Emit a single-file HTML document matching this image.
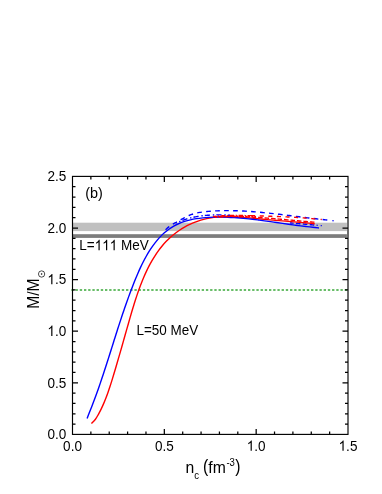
<!DOCTYPE html>
<html><head><meta charset="utf-8"><style>
html,body{margin:0;padding:0;background:#fff;}
body{width:382px;height:494px;overflow:hidden;}
svg{display:block;will-change:transform;}
text{font-family:"Liberation Sans",sans-serif;fill:#000;}
</style></head><body>
<svg width="382" height="494" viewBox="0 0 382 494">
<rect width="382" height="494" fill="#fff"/>
<rect x="72.5" y="222.7" width="274.4" height="8.4" fill="#c0c0c0"/>
<rect x="72.5" y="234.2" width="274.4" height="3.7" fill="#7c7c7c"/>
<path d="M71.35 290H348.0" stroke="#38a838" stroke-width="1.6" stroke-dasharray="2.35 1.855" fill="none"/>
<g fill="none" stroke-width="1.4" stroke-linecap="butt" stroke-linejoin="round">
<path d="M230.00 215.30C229.84 215.29 229.38 215.26 229.07 215.24C228.76 215.22 228.45 215.20 228.14 215.19C227.83 215.17 227.52 215.15 227.21 215.14C226.90 215.12 226.59 215.10 226.28 215.09C225.97 215.07 225.66 215.06 225.35 215.04C225.03 215.03 224.72 215.02 224.41 215.01C224.10 214.99 223.79 214.98 223.48 214.97C223.17 214.96 222.86 214.95 222.54 214.94C222.23 214.93 221.92 214.93 221.61 214.92C221.30 214.91 220.99 214.91 220.67 214.90C220.36 214.90 220.05 214.89 219.74 214.89C219.43 214.88 219.11 214.88 218.80 214.88C218.49 214.88 218.18 214.88 217.87 214.88C217.55 214.88 217.24 214.88 216.93 214.88C216.62 214.88 216.31 214.88 215.99 214.89C215.68 214.89 215.37 214.90 215.06 214.90C214.74 214.91 214.43 214.92 214.12 214.92C213.81 214.93 213.50 214.94 213.18 214.95C212.87 214.96 212.56 214.97 212.25 214.99C211.94 215.00 211.63 215.01 211.31 215.03C211.00 215.04 210.69 215.06 210.38 215.07C210.07 215.09 209.76 215.11 209.45 215.13C209.13 215.14 208.82 215.16 208.51 215.19C208.20 215.21 207.89 215.23 207.58 215.25C207.27 215.28 206.96 215.30 206.65 215.33C206.34 215.35 206.03 215.38 205.72 215.41C205.41 215.44 205.10 215.47 204.79 215.50C204.48 215.53 204.17 215.56 203.86 215.59C203.55 215.63 203.24 215.66 202.93 215.70C202.62 215.74 202.31 215.77 202.00 215.81C201.69 215.85 201.39 215.89 201.08 215.93C200.77 215.97 200.46 216.02 200.15 216.06C199.85 216.10 199.54 216.15 199.23 216.20C198.92 216.24 198.62 216.29 198.31 216.34C198.00 216.39 197.70 216.44 197.39 216.49C197.08 216.55 196.78 216.60 196.47 216.66C196.17 216.71 195.86 216.77 195.56 216.83C195.25 216.89 194.95 216.95 194.64 217.01C194.34 217.07 194.03 217.13 193.73 217.20C193.43 217.26 193.12 217.33 192.82 217.39C192.52 217.46 192.21 217.53 191.91 217.60C191.61 217.67 191.31 217.74 191.00 217.82C190.70 217.89 190.40 217.97 190.10 218.04C189.80 218.12 189.50 218.20 189.20 218.28C188.90 218.36 188.60 218.44 188.30 218.53C188.00 218.61 187.70 218.70 187.40 218.78C187.11 218.87 186.81 218.96 186.51 219.05C186.21 219.14 185.92 219.23 185.62 219.32C185.32 219.42 185.03 219.51 184.73 219.61C184.43 219.71 184.14 219.81 183.84 219.91C183.55 220.01 183.26 220.11 182.96 220.22C182.67 220.32 182.37 220.43 182.08 220.54C181.79 220.64 181.50 220.75 181.20 220.86C180.91 220.98 180.62 221.09 180.33 221.21C180.04 221.32 179.75 221.44 179.46 221.56C179.17 221.68 178.88 221.80 178.59 221.92C178.31 222.04 178.02 222.17 177.73 222.29C177.44 222.42 177.16 222.56 176.87 222.68C176.58 222.80 176.14 222.95 176.00 223.00" stroke="#0000ff" stroke-dasharray="5.2 2.1 1.4 2.8" stroke-dashoffset="3"/>
<path d="M314.20 225.00C314.13 224.99 313.93 224.98 313.79 224.96C313.65 224.95 313.52 224.94 313.38 224.93C313.24 224.92 313.11 224.91 312.97 224.89C312.83 224.88 312.70 224.87 312.56 224.86C312.42 224.85 312.29 224.84 312.15 224.82C312.01 224.81 311.88 224.80 311.74 224.79C311.60 224.78 311.47 224.76 311.33 224.75C311.19 224.74 311.06 224.73 310.92 224.72C310.78 224.71 310.65 224.69 310.51 224.68C310.37 224.67 310.23 224.66 310.10 224.65C309.96 224.63 309.82 224.62 309.69 224.61C309.55 224.60 309.41 224.59 309.28 224.57C309.14 224.56 309.00 224.55 308.87 224.54C308.73 224.53 308.59 224.51 308.46 224.50C308.32 224.49 308.18 224.48 308.05 224.47C307.91 224.45 307.77 224.44 307.64 224.43C307.50 224.42 307.36 224.41 307.23 224.40C307.09 224.38 306.95 224.37 306.82 224.36C306.68 224.35 306.54 224.34 306.41 224.32C306.27 224.31 306.13 224.30 306.00 224.29C305.86 224.28 305.72 224.26 305.59 224.25C305.45 224.24 305.31 224.23 305.18 224.22C305.04 224.20 304.90 224.19 304.77 224.18C304.63 224.17 304.49 224.16 304.36 224.14C304.22 224.13 304.08 224.12 303.95 224.11C303.81 224.10 303.67 224.08 303.54 224.07C303.40 224.06 303.26 224.05 303.13 224.04C302.99 224.02 302.85 224.01 302.72 224.00C302.58 223.99 302.44 223.98 302.31 223.96C302.17 223.95 302.03 223.94 301.90 223.93C301.76 223.92 301.62 223.90 301.49 223.89C301.35 223.88 301.21 223.87 301.08 223.86C300.94 223.84 300.80 223.83 300.66 223.82C300.53 223.81 300.39 223.80 300.25 223.78C300.12 223.77 299.98 223.76 299.84 223.75C299.71 223.74 299.57 223.72 299.43 223.71C299.30 223.70 299.16 223.69 299.02 223.68C298.89 223.66 298.75 223.65 298.61 223.64C298.48 223.63 298.34 223.62 298.20 223.60C298.07 223.59 297.93 223.58 297.79 223.57C297.66 223.56 297.52 223.55 297.38 223.53C297.25 223.52 297.11 223.51 296.97 223.50C296.84 223.49 296.70 223.47 296.56 223.46C296.43 223.45 296.29 223.44 296.15 223.43C296.02 223.41 295.88 223.40 295.74 223.39C295.61 223.38 295.47 223.37 295.33 223.36C295.20 223.34 295.06 223.33 294.92 223.32C294.79 223.31 294.65 223.30 294.51 223.28C294.38 223.27 294.24 223.26 294.10 223.25C293.97 223.24 293.83 223.23 293.69 223.21C293.56 223.20 293.42 223.19 293.28 223.18C293.15 223.17 293.01 223.16 292.87 223.14C292.73 223.13 292.60 223.12 292.46 223.11C292.32 223.10 292.19 223.09 292.05 223.07C291.91 223.06 291.78 223.05 291.64 223.04C291.50 223.03 291.37 223.02 291.23 223.00C291.09 222.99 290.96 222.98 290.82 222.97C290.68 222.96 290.55 222.95 290.41 222.93C290.27 222.92 290.07 222.91 290.00 222.90" stroke="#0000ff" stroke-dasharray="4.5 2.4"/>
<path d="M316.6 225.3l1.1 0.06M320.7 225.6l1.1 0.05" stroke="#0000ff"/>
<path d="M91.40 423.50C92.07 422.79 94.27 420.75 95.44 419.22C96.60 417.69 97.46 416.00 98.41 414.31C99.36 412.62 100.26 410.87 101.13 409.09C102.00 407.31 102.83 405.48 103.63 403.63C104.43 401.77 105.19 399.88 105.93 397.97C106.67 396.06 107.38 394.12 108.06 392.18C108.75 390.23 109.41 388.26 110.05 386.30C110.70 384.34 111.32 382.37 111.93 380.41C112.54 378.45 113.13 376.49 113.71 374.55C114.30 372.61 114.87 370.68 115.44 368.77C116.01 366.86 116.56 364.96 117.11 363.07C117.67 361.18 118.21 359.30 118.75 357.42C119.29 355.55 119.83 353.68 120.36 351.82C120.90 349.95 121.43 348.09 121.96 346.23C122.48 344.37 123.01 342.51 123.54 340.64C124.07 338.77 124.60 336.91 125.13 335.03C125.66 333.16 126.19 331.28 126.73 329.39C127.26 327.50 127.80 325.60 128.35 323.69C128.89 321.77 129.44 319.85 130.00 317.91C130.56 315.97 131.12 314.02 131.70 312.06C132.28 310.11 132.87 308.14 133.47 306.18C134.07 304.21 134.68 302.24 135.32 300.27C135.95 298.31 136.60 296.34 137.27 294.38C137.93 292.42 138.62 290.46 139.33 288.52C140.04 286.57 140.77 284.63 141.53 282.72C142.29 280.80 143.07 278.89 143.88 277.00C144.69 275.11 145.53 273.24 146.40 271.40C147.27 269.55 148.17 267.73 149.10 265.93C150.04 264.14 151.01 262.37 152.01 260.63C153.02 258.89 154.06 257.18 155.14 255.52C156.23 253.85 157.34 252.21 158.51 250.62C159.68 249.02 160.88 247.47 162.13 245.96C163.39 244.45 164.68 242.98 166.03 241.56C167.38 240.15 168.77 238.78 170.22 237.46C171.67 236.15 173.17 234.88 174.71 233.68C176.25 232.47 177.85 231.32 179.48 230.23C181.12 229.13 182.80 228.10 184.51 227.13C186.23 226.16 187.99 225.25 189.77 224.40C191.55 223.56 193.38 222.77 195.22 222.06C197.06 221.35 198.94 220.70 200.83 220.13C202.73 219.55 204.65 219.04 206.58 218.61C208.52 218.18 210.47 217.82 212.43 217.53C214.40 217.25 216.38 217.05 218.36 216.91C220.35 216.77 222.35 216.70 224.35 216.68C226.35 216.65 228.37 216.69 230.38 216.74C232.40 216.80 234.43 216.90 236.46 217.01C238.48 217.11 240.52 217.25 242.56 217.40C244.59 217.54 246.63 217.71 248.67 217.88C250.71 218.05 252.76 218.24 254.80 218.43C256.84 218.61 258.89 218.81 260.92 219.00C262.96 219.20 265.00 219.40 267.04 219.58C269.07 219.77 271.10 219.96 273.13 220.13C275.15 220.31 277.18 220.48 279.19 220.65C281.20 220.82 283.21 220.98 285.21 221.14C287.20 221.30 289.19 221.46 291.17 221.62C293.15 221.78 295.12 221.94 297.08 222.10C299.03 222.27 300.98 222.43 302.91 222.61C304.84 222.78 306.69 222.95 308.66 223.15C310.62 223.35 313.69 223.69 314.70 223.80" stroke="#ff0000"/>
<path d="M87.10 418.40C87.47 417.46 88.54 414.66 89.29 412.75C90.05 410.83 90.86 408.84 91.62 406.89C92.38 404.94 93.13 402.99 93.86 401.05C94.59 399.11 95.31 397.16 96.02 395.22C96.73 393.29 97.42 391.35 98.11 389.41C98.79 387.48 99.46 385.55 100.13 383.61C100.79 381.68 101.45 379.75 102.09 377.82C102.74 375.90 103.38 373.97 104.01 372.04C104.65 370.12 105.27 368.19 105.89 366.27C106.51 364.35 107.13 362.42 107.74 360.50C108.36 358.58 108.97 356.66 109.57 354.73C110.18 352.81 110.79 350.89 111.39 348.97C112.00 347.05 112.60 345.13 113.21 343.20C113.81 341.28 114.42 339.36 115.02 337.44C115.63 335.51 116.24 333.59 116.86 331.67C117.47 329.74 118.09 327.82 118.71 325.89C119.33 323.97 119.96 322.04 120.60 320.11C121.23 318.18 121.87 316.25 122.52 314.32C123.17 312.39 123.82 310.45 124.49 308.52C125.16 306.58 125.83 304.64 126.52 302.70C127.21 300.76 127.90 298.82 128.61 296.87C129.32 294.93 130.04 292.98 130.78 291.03C131.52 289.08 132.26 287.13 133.03 285.17C133.79 283.22 134.57 281.25 135.37 279.30C136.17 277.34 136.99 275.39 137.83 273.45C138.67 271.51 139.53 269.58 140.42 267.67C141.31 265.76 142.22 263.86 143.17 262.00C144.12 260.14 145.10 258.29 146.11 256.49C147.12 254.68 148.17 252.90 149.25 251.17C150.34 249.44 151.46 247.74 152.63 246.10C153.80 244.46 155.00 242.86 156.26 241.32C157.51 239.78 158.81 238.29 160.16 236.87C161.52 235.45 162.91 234.09 164.37 232.81C165.83 231.53 167.33 230.32 168.90 229.20C170.47 228.07 172.09 227.02 173.78 226.07C175.46 225.12 177.22 224.26 179.02 223.49C180.82 222.71 182.69 222.03 184.59 221.42C186.49 220.81 188.45 220.29 190.43 219.83C192.41 219.36 194.44 218.98 196.48 218.65C198.53 218.31 200.61 218.05 202.69 217.83C204.77 217.62 206.88 217.46 208.99 217.34C211.10 217.22 213.22 217.15 215.33 217.11C217.43 217.07 219.55 217.07 221.64 217.10C223.73 217.12 225.82 217.18 227.89 217.26C229.97 217.34 232.03 217.45 234.09 217.57C236.14 217.70 238.19 217.86 240.23 218.03C242.27 218.20 244.30 218.39 246.33 218.60C248.36 218.80 250.38 219.03 252.40 219.26C254.42 219.50 256.43 219.75 258.44 220.01C260.45 220.27 262.46 220.54 264.46 220.82C266.47 221.09 268.47 221.38 270.47 221.67C272.47 221.95 274.48 222.25 276.48 222.54C278.48 222.83 280.48 223.12 282.49 223.41C284.49 223.70 286.50 223.99 288.51 224.28C290.52 224.56 292.53 224.84 294.55 225.10C296.57 225.37 298.59 225.63 300.62 225.88C302.64 226.12 304.68 226.36 306.72 226.58C308.76 226.80 310.82 226.97 312.86 227.19C314.91 227.42 317.98 227.82 319.00 227.95" stroke="#0000ff"/>
<path d="M314.40 222.30C314.12 222.27 313.28 222.17 312.72 222.11C312.16 222.06 311.60 222.02 311.04 221.97C310.48 221.92 309.92 221.87 309.36 221.83C308.80 221.78 308.24 221.73 307.68 221.68C307.12 221.63 306.56 221.58 306.00 221.53C305.44 221.48 304.88 221.43 304.32 221.38C303.76 221.33 303.20 221.28 302.64 221.23C302.08 221.18 301.52 221.13 300.95 221.08C300.39 221.03 299.83 220.98 299.27 220.93C298.71 220.87 298.15 220.82 297.59 220.77C297.03 220.72 296.47 220.67 295.91 220.62C295.35 220.57 294.79 220.51 294.23 220.46C293.67 220.41 293.11 220.36 292.55 220.31C291.98 220.26 291.42 220.20 290.86 220.15C290.30 220.10 289.74 220.05 289.18 220.00C288.62 219.95 288.06 219.90 287.50 219.84C286.94 219.79 286.38 219.74 285.81 219.69C285.25 219.64 284.69 219.59 284.13 219.54C283.57 219.49 283.01 219.44 282.45 219.39C281.89 219.34 281.33 219.29 280.76 219.24C280.20 219.19 279.64 219.14 279.08 219.09C278.52 219.05 277.96 219.00 277.40 218.95C276.84 218.90 276.27 218.85 275.71 218.81C275.15 218.76 274.59 218.71 274.03 218.67C273.47 218.62 272.91 218.57 272.34 218.53C271.78 218.48 271.22 218.44 270.66 218.39C270.10 218.35 269.54 218.31 268.97 218.26C268.41 218.22 267.85 218.18 267.29 218.13C266.73 218.09 266.17 218.05 265.60 218.01C265.04 217.97 264.48 217.93 263.92 217.89C263.36 217.85 262.80 217.81 262.23 217.77C261.67 217.74 261.11 217.70 260.55 217.66C259.99 217.62 259.43 217.59 258.86 217.55C258.30 217.52 257.74 217.48 257.18 217.45C256.62 217.42 256.05 217.38 255.49 217.35C254.93 217.32 254.37 217.29 253.81 217.26C253.24 217.23 252.68 217.20 252.12 217.17C251.56 217.15 251.00 217.12 250.43 217.09C249.87 217.07 249.31 217.04 248.75 217.02C248.18 216.99 247.62 216.97 247.06 216.95C246.50 216.93 245.94 216.91 245.37 216.89C244.81 216.87 244.25 216.85 243.69 216.83C243.12 216.81 242.56 216.80 242.00 216.78C241.44 216.77 240.87 216.75 240.31 216.74C239.75 216.73 239.19 216.71 238.63 216.70C238.06 216.69 237.50 216.68 236.94 216.68C236.38 216.67 235.81 216.66 235.25 216.66C234.69 216.65 234.13 216.65 233.56 216.65C233.00 216.64 232.44 216.64 231.88 216.64C231.31 216.64 230.75 216.65 230.19 216.65C229.63 216.65 229.06 216.66 228.50 216.66C227.94 216.67 227.37 216.68 226.81 216.69C226.25 216.70 225.69 216.71 225.12 216.72C224.56 216.73 224.00 216.74 223.44 216.76C222.87 216.78 222.31 216.79 221.75 216.81C221.19 216.83 220.62 216.85 220.06 216.87C219.50 216.90 218.93 216.92 218.37 216.94C217.81 216.97 217.25 216.98 216.68 217.03C216.12 217.07 215.28 217.17 215.00 217.20" stroke="#ff0000" stroke-dasharray="4.5 2"/>
<path d="M256.00 216.80C255.89 216.79 255.55 216.78 255.32 216.77C255.10 216.76 254.87 216.75 254.64 216.75C254.42 216.74 254.19 216.73 253.97 216.72C253.74 216.71 253.52 216.71 253.29 216.70C253.06 216.69 252.84 216.68 252.61 216.68C252.39 216.67 252.16 216.66 251.93 216.65C251.71 216.64 251.48 216.64 251.26 216.63C251.03 216.62 250.80 216.61 250.58 216.61C250.35 216.60 250.13 216.59 249.90 216.58C249.67 216.58 249.45 216.57 249.22 216.56C249.00 216.55 248.77 216.55 248.54 216.54C248.32 216.53 248.09 216.53 247.87 216.52C247.64 216.51 247.41 216.50 247.19 216.50C246.96 216.49 246.74 216.48 246.51 216.48C246.28 216.47 246.06 216.46 245.83 216.46C245.60 216.45 245.38 216.44 245.15 216.44C244.93 216.43 244.70 216.43 244.47 216.42C244.25 216.41 244.02 216.41 243.80 216.40C243.57 216.40 243.34 216.39 243.12 216.39C242.89 216.38 242.66 216.37 242.44 216.37C242.21 216.36 241.99 216.36 241.76 216.35C241.53 216.35 241.31 216.35 241.08 216.34C240.85 216.34 240.63 216.33 240.40 216.33C240.18 216.32 239.95 216.32 239.72 216.32C239.50 216.31 239.27 216.31 239.05 216.30C238.82 216.30 238.59 216.30 238.37 216.30C238.14 216.29 237.91 216.29 237.69 216.29C237.46 216.28 237.24 216.28 237.01 216.28C236.78 216.28 236.56 216.28 236.33 216.27C236.10 216.27 235.88 216.27 235.65 216.27C235.43 216.27 235.20 216.27 234.97 216.27C234.75 216.27 234.52 216.27 234.30 216.27C234.07 216.27 233.84 216.27 233.62 216.27C233.39 216.27 233.16 216.27 232.94 216.27C232.71 216.27 232.49 216.27 232.26 216.27C232.03 216.27 231.81 216.27 231.58 216.28C231.36 216.28 231.13 216.28 230.90 216.28C230.68 216.29 230.45 216.29 230.23 216.29C230.00 216.30 229.77 216.30 229.55 216.30C229.32 216.31 229.09 216.31 228.87 216.32C228.64 216.32 228.42 216.32 228.19 216.33C227.96 216.34 227.74 216.34 227.51 216.35C227.29 216.35 227.06 216.36 226.83 216.37C226.61 216.37 226.38 216.38 226.16 216.39C225.93 216.39 225.70 216.40 225.48 216.41C225.25 216.42 225.03 216.43 224.80 216.43C224.58 216.44 224.35 216.45 224.12 216.46C223.90 216.47 223.67 216.48 223.45 216.49C223.22 216.50 222.99 216.51 222.77 216.52C222.54 216.54 222.32 216.55 222.09 216.56C221.87 216.57 221.64 216.58 221.41 216.60C221.19 216.61 220.96 216.62 220.74 216.64C220.51 216.65 220.29 216.66 220.06 216.68C219.83 216.69 219.61 216.71 219.38 216.72C219.16 216.74 218.93 216.76 218.71 216.77C218.48 216.79 218.25 216.81 218.03 216.82C217.80 216.84 217.58 216.86 217.35 216.88C217.13 216.89 216.90 216.91 216.68 216.93C216.45 216.95 216.11 216.99 216.00 217.00" stroke="#ff0000" stroke-dasharray="1.6 1.4"/>
<path d="M252.00 215.65C251.89 215.65 251.56 215.64 251.34 215.64C251.12 215.64 250.90 215.64 250.68 215.64C250.46 215.63 250.24 215.63 250.02 215.63C249.80 215.63 249.58 215.63 249.35 215.62C249.13 215.62 248.91 215.62 248.69 215.62C248.47 215.62 248.25 215.61 248.03 215.61C247.81 215.61 247.59 215.61 247.37 215.60C247.15 215.60 246.93 215.60 246.71 215.60C246.49 215.59 246.27 215.59 246.05 215.59C245.83 215.59 245.61 215.58 245.39 215.58C245.17 215.58 244.95 215.58 244.72 215.57C244.50 215.57 244.28 215.57 244.06 215.57C243.84 215.56 243.62 215.56 243.40 215.56C243.18 215.55 242.96 215.55 242.74 215.55C242.52 215.55 242.30 215.54 242.08 215.54C241.86 215.54 241.64 215.54 241.42 215.53C241.19 215.53 240.97 215.53 240.75 215.53C240.53 215.52 240.31 215.52 240.09 215.52C239.87 215.52 239.65 215.52 239.43 215.51C239.21 215.51 238.99 215.51 238.77 215.51C238.55 215.51 238.33 215.50 238.11 215.50C237.88 215.50 237.66 215.50 237.44 215.50C237.22 215.50 237.00 215.50 236.78 215.50C236.56 215.49 236.34 215.49 236.12 215.49C235.90 215.49 235.68 215.49 235.46 215.49C235.24 215.49 235.02 215.49 234.80 215.49C234.57 215.49 234.35 215.49 234.13 215.49C233.91 215.49 233.69 215.49 233.47 215.49C233.25 215.50 233.03 215.50 232.81 215.50C232.59 215.50 232.37 215.50 232.15 215.50C231.93 215.50 231.71 215.51 231.49 215.51C231.26 215.51 231.04 215.51 230.82 215.52C230.60 215.52 230.38 215.52 230.16 215.53C229.94 215.53 229.72 215.53 229.50 215.54C229.28 215.54 229.06 215.54 228.84 215.55C228.62 215.55 228.40 215.56 228.18 215.56C227.96 215.57 227.74 215.57 227.52 215.58C227.30 215.59 227.08 215.59 226.85 215.60C226.63 215.61 226.41 215.61 226.19 215.62C225.97 215.63 225.75 215.64 225.53 215.64C225.31 215.65 225.09 215.66 224.87 215.67C224.65 215.68 224.43 215.69 224.21 215.70C223.99 215.71 223.77 215.72 223.55 215.73C223.33 215.74 223.11 215.75 222.89 215.76C222.67 215.77 222.45 215.78 222.23 215.79C222.01 215.81 221.79 215.82 221.57 215.83C221.35 215.84 221.13 215.86 220.91 215.87C220.69 215.89 220.47 215.90 220.25 215.91C220.03 215.93 219.81 215.94 219.59 215.96C219.37 215.98 219.15 215.99 218.93 216.01C218.71 216.03 218.49 216.04 218.27 216.06C218.05 216.08 217.83 216.10 217.61 216.12C217.39 216.14 217.17 216.16 216.95 216.18C216.73 216.20 216.51 216.22 216.29 216.24C216.07 216.26 215.85 216.28 215.63 216.30C215.41 216.32 215.19 216.35 214.97 216.37C214.75 216.39 214.54 216.42 214.32 216.44C214.10 216.47 213.88 216.49 213.66 216.52C213.44 216.54 213.11 216.59 213.00 216.60" stroke="#ff0000" stroke-dasharray="4.5 1.6 1.3 1.6"/>
<path d="M327.30 220.00C326.81 219.96 325.31 219.83 324.35 219.74C323.40 219.65 322.51 219.54 321.58 219.44C320.66 219.34 319.73 219.24 318.80 219.14C317.88 219.03 316.95 218.93 316.02 218.82C315.09 218.72 314.16 218.61 313.22 218.50C312.29 218.39 311.36 218.28 310.43 218.16C309.49 218.05 308.56 217.94 307.62 217.82C306.69 217.71 305.75 217.59 304.81 217.48C303.87 217.36 302.93 217.24 302.00 217.13C301.06 217.01 300.12 216.89 299.17 216.77C298.23 216.65 297.29 216.53 296.35 216.42C295.41 216.30 294.46 216.18 293.52 216.06C292.58 215.94 291.63 215.82 290.69 215.70C289.74 215.59 288.80 215.47 287.85 215.35C286.90 215.23 285.96 215.12 285.01 215.00C284.06 214.88 283.12 214.77 282.17 214.65C281.22 214.54 280.27 214.43 279.32 214.31C278.37 214.20 277.42 214.09 276.47 213.98C275.52 213.87 274.57 213.76 273.62 213.66C272.67 213.55 271.72 213.44 270.77 213.34C269.82 213.24 268.87 213.14 267.92 213.04C266.97 212.94 266.02 212.84 265.06 212.74C264.11 212.65 263.16 212.56 262.21 212.47C261.26 212.37 260.30 212.29 259.35 212.20C258.40 212.12 257.45 212.03 256.50 211.95C255.55 211.87 254.59 211.79 253.64 211.72C252.69 211.65 251.74 211.58 250.79 211.51C249.84 211.44 248.88 211.38 247.93 211.31C246.98 211.25 246.03 211.20 245.08 211.14C244.13 211.09 243.18 211.04 242.23 210.99C241.28 210.95 240.33 210.90 239.38 210.87C238.43 210.83 237.48 210.79 236.53 210.76C235.58 210.73 234.63 210.71 233.69 210.69C232.74 210.67 231.79 210.65 230.84 210.64C229.90 210.63 228.95 210.62 228.01 210.62C227.06 210.62 226.11 210.62 225.17 210.63C224.23 210.64 223.28 210.65 222.34 210.67C221.39 210.69 220.45 210.71 219.51 210.74C218.57 210.77 217.63 210.81 216.69 210.85C215.75 210.89 214.81 210.94 213.87 210.99C212.93 211.04 211.99 211.10 211.05 211.17C210.12 211.23 209.18 211.30 208.25 211.38C207.31 211.46 206.38 211.55 205.44 211.65C204.51 211.75 203.58 211.85 202.65 211.98C201.73 212.11 200.80 212.24 199.88 212.40C198.96 212.57 198.04 212.74 197.12 212.94C196.21 213.15 195.30 213.37 194.39 213.62C193.48 213.87 192.58 214.15 191.68 214.46C190.79 214.77 189.89 215.11 189.01 215.48C188.12 215.85 187.24 216.26 186.36 216.69C185.49 217.12 184.62 217.59 183.76 218.05C182.90 218.52 182.04 219.00 181.20 219.48C180.35 219.96 179.51 220.45 178.68 220.92C177.85 221.38 177.03 221.84 176.22 222.29C175.40 222.74 174.60 223.17 173.80 223.63C173.01 224.09 172.22 224.54 171.45 225.04C170.68 225.53 169.91 226.04 169.16 226.60C168.40 227.15 167.62 227.73 166.93 228.40C166.24 229.06 165.32 230.23 165.00 230.60" stroke="#0000ff" stroke-dasharray="4.7 4.3"/>
<path d="M332.4 220.65l1.2 0.1" stroke="#0000ff"/>
<path d="M315.30 219.00C315.12 218.98 314.59 218.92 314.23 218.88C313.87 218.84 313.52 218.80 313.16 218.77C312.81 218.73 312.45 218.69 312.09 218.66C311.74 218.62 311.38 218.59 311.03 218.55C310.67 218.52 310.31 218.49 309.96 218.45C309.60 218.42 309.24 218.39 308.89 218.35C308.53 218.32 308.17 218.29 307.82 218.26C307.46 218.23 307.10 218.20 306.75 218.17C306.39 218.13 306.03 218.10 305.68 218.08C305.32 218.05 304.96 218.02 304.61 217.99C304.25 217.96 303.89 217.93 303.54 217.91C303.18 217.88 302.82 217.85 302.47 217.82C302.11 217.80 301.75 217.77 301.39 217.75C301.04 217.72 300.68 217.69 300.32 217.67C299.97 217.64 299.61 217.62 299.25 217.60C298.89 217.57 298.54 217.55 298.18 217.53C297.82 217.50 297.46 217.48 297.11 217.46C296.75 217.43 296.39 217.41 296.04 217.39C295.68 217.37 295.32 217.35 294.96 217.33C294.61 217.31 294.25 217.28 293.89 217.26C293.53 217.24 293.17 217.22 292.82 217.20C292.46 217.18 292.10 217.17 291.74 217.15C291.39 217.13 291.03 217.11 290.67 217.09C290.31 217.07 289.96 217.05 289.60 217.04C289.24 217.02 288.88 217.00 288.52 216.98C288.17 216.96 287.81 216.95 287.45 216.93C287.09 216.91 286.73 216.90 286.38 216.88C286.02 216.86 285.66 216.85 285.30 216.83C284.94 216.82 284.59 216.80 284.23 216.79C283.87 216.77 283.51 216.76 283.15 216.74C282.80 216.73 282.44 216.71 282.08 216.70C281.72 216.68 281.36 216.67 281.01 216.65C280.65 216.64 280.29 216.62 279.93 216.61C279.57 216.60 279.22 216.58 278.86 216.57C278.50 216.55 278.14 216.54 277.78 216.53C277.43 216.51 277.07 216.50 276.71 216.49C276.35 216.47 275.99 216.46 275.63 216.45C275.28 216.44 274.92 216.42 274.56 216.41C274.20 216.40 273.84 216.39 273.49 216.37C273.13 216.36 272.77 216.35 272.41 216.34C272.05 216.32 271.69 216.31 271.34 216.30C270.98 216.29 270.62 216.27 270.26 216.26C269.90 216.25 269.54 216.24 269.19 216.23C268.83 216.21 268.47 216.20 268.11 216.19C267.75 216.18 267.40 216.16 267.04 216.15C266.68 216.14 266.32 216.13 265.96 216.12C265.61 216.10 265.25 216.09 264.89 216.08C264.53 216.07 264.17 216.06 263.81 216.04C263.46 216.03 263.10 216.02 262.74 216.01C262.38 215.99 262.02 215.98 261.67 215.97C261.31 215.96 260.95 215.94 260.59 215.93C260.23 215.92 259.88 215.91 259.52 215.89C259.16 215.88 258.80 215.87 258.44 215.85C258.09 215.84 257.73 215.83 257.37 215.81C257.01 215.80 256.65 215.79 256.30 215.77C255.94 215.76 255.58 215.75 255.22 215.73C254.87 215.72 254.51 215.71 254.15 215.69C253.79 215.68 253.43 215.66 253.08 215.65C252.72 215.64 252.18 215.65 252.00 215.65" stroke="#ff0000" stroke-dasharray="4.1 4.5"/>
<path d="M320.6 219.4l1.2 0.1" stroke="#ff0000"/>
</g>
<path d="M90.87 434.40v-3.00M90.87 176.40v3.00M109.23 434.40v-3.00M109.23 176.40v3.00M127.60 434.40v-3.00M127.60 176.40v3.00M145.97 434.40v-3.00M145.97 176.40v3.00M164.33 434.40v-5.50M164.33 176.40v5.50M182.70 434.40v-3.00M182.70 176.40v3.00M201.07 434.40v-3.00M201.07 176.40v3.00M219.43 434.40v-3.00M219.43 176.40v3.00M237.80 434.40v-3.00M237.80 176.40v3.00M256.17 434.40v-5.50M256.17 176.40v5.50M274.53 434.40v-3.00M274.53 176.40v3.00M292.90 434.40v-3.00M292.90 176.40v3.00M311.27 434.40v-3.00M311.27 176.40v3.00M329.63 434.40v-3.00M329.63 176.40v3.00M72.50 424.08h3.00M348.00 424.08h-3.00M72.50 413.76h3.00M348.00 413.76h-3.00M72.50 403.44h3.00M348.00 403.44h-3.00M72.50 393.12h3.00M348.00 393.12h-3.00M72.50 382.80h5.50M348.00 382.80h-5.50M72.50 372.48h3.00M348.00 372.48h-3.00M72.50 362.16h3.00M348.00 362.16h-3.00M72.50 351.84h3.00M348.00 351.84h-3.00M72.50 341.52h3.00M348.00 341.52h-3.00M72.50 331.20h5.50M348.00 331.20h-5.50M72.50 320.88h3.00M348.00 320.88h-3.00M72.50 310.56h3.00M348.00 310.56h-3.00M72.50 300.24h3.00M348.00 300.24h-3.00M72.50 289.92h3.00M348.00 289.92h-3.00M72.50 279.60h5.50M348.00 279.60h-5.50M72.50 269.28h3.00M348.00 269.28h-3.00M72.50 258.96h3.00M348.00 258.96h-3.00M72.50 248.64h3.00M348.00 248.64h-3.00M72.50 238.32h3.00M348.00 238.32h-3.00M72.50 228.00h5.50M348.00 228.00h-5.50M72.50 217.68h3.00M348.00 217.68h-3.00M72.50 207.36h3.00M348.00 207.36h-3.00M72.50 197.04h3.00M348.00 197.04h-3.00M72.50 186.72h3.00M348.00 186.72h-3.00" stroke="#000" stroke-width="1.25" fill="none"/>
<rect x="72.5" y="176.4" width="275.5" height="258.0" fill="none" stroke="#000" stroke-width="1.15"/>
<g><g transform="translate(72.50 450.80) scale(0.940 1)" font-size="14.40px"><text x="-10.01" y="0" xml:space="preserve">0.0</text></g><g transform="translate(164.33 450.80) scale(0.940 1)" font-size="14.40px"><text x="-10.01" y="0" xml:space="preserve">0.5</text></g><g transform="translate(256.17 450.80) scale(0.940 1)" font-size="14.40px"><path transform="translate(-10.01 0) scale(0.00703 -0.00703)" d="M763 0H583V1147Q518 1085 412.5 1023T223 930V1104Q373 1174.5 485 1275T644 1470H763Z" fill="#000"/><text x="-2.00" y="0" xml:space="preserve">.0</text></g><g transform="translate(348.00 450.80) scale(0.940 1)" font-size="14.40px"><path transform="translate(-10.01 0) scale(0.00703 -0.00703)" d="M763 0H583V1147Q518 1085 412.5 1023T223 930V1104Q373 1174.5 485 1275T644 1470H763Z" fill="#000"/><text x="-2.00" y="0" xml:space="preserve">.5</text></g><g transform="translate(66.20 439.10) scale(0.940 1)" font-size="14.40px"><text x="-20.02" y="0" xml:space="preserve">0.0</text></g><g transform="translate(66.20 387.50) scale(0.940 1)" font-size="14.40px"><text x="-20.02" y="0" xml:space="preserve">0.5</text></g><g transform="translate(66.20 335.90) scale(0.940 1)" font-size="14.40px"><path transform="translate(-20.02 0) scale(0.00703 -0.00703)" d="M763 0H583V1147Q518 1085 412.5 1023T223 930V1104Q373 1174.5 485 1275T644 1470H763Z" fill="#000"/><text x="-12.01" y="0" xml:space="preserve">.0</text></g><g transform="translate(66.20 284.30) scale(0.940 1)" font-size="14.40px"><path transform="translate(-20.02 0) scale(0.00703 -0.00703)" d="M763 0H583V1147Q518 1085 412.5 1023T223 930V1104Q373 1174.5 485 1275T644 1470H763Z" fill="#000"/><text x="-12.01" y="0" xml:space="preserve">.5</text></g><g transform="translate(66.20 232.70) scale(0.940 1)" font-size="14.40px"><text x="-20.02" y="0" xml:space="preserve">2.0</text></g><g transform="translate(66.20 181.10) scale(0.940 1)" font-size="14.40px"><text x="-20.02" y="0" xml:space="preserve">2.5</text></g>
<g transform="translate(85.30 198.30) scale(1.000 1)" font-size="14.40px"><text x="0.00" y="0" xml:space="preserve">(b)</text></g>
<g transform="translate(79.20 250.20) scale(0.940 1)" font-size="14.40px"><text x="0.00" y="0">L=</text><path transform="translate(16.42 0) scale(0.00703 -0.00703)" d="M763 0H583V1147Q518 1085 412.5 1023T223 930V1104Q373 1174.5 485 1275T644 1470H763Z" fill="#000"/><path transform="translate(24.43 0) scale(0.00703 -0.00703)" d="M763 0H583V1147Q518 1085 412.5 1023T223 930V1104Q373 1174.5 485 1275T644 1470H763Z" fill="#000"/><path transform="translate(32.44 0) scale(0.00703 -0.00703)" d="M763 0H583V1147Q518 1085 412.5 1023T223 930V1104Q373 1174.5 485 1275T644 1470H763Z" fill="#000"/><text x="40.45" y="0" xml:space="preserve">&#160;MeV</text></g>
<g transform="translate(136.50 335.00) scale(0.935 1)" font-size="14.40px"><text x="0.00" y="0" xml:space="preserve">L=50&#160;MeV</text></g>
</g>
<g transform="translate(39.2,308.8) rotate(-90) scale(0.945 1)"><text x="0" y="0" font-size="16.5px">M/M</text></g>
<circle cx="41.6" cy="274.0" r="3.15" fill="none" stroke="#000" stroke-width="0.7"/>
<circle cx="41.6" cy="274.0" r="0.8" fill="#000"/>
<g font-size="16.5px">
<text transform="translate(185.5 472.6) scale(0.955 1)">n</text>
<text transform="translate(194.3 478.9) scale(0.955 1)" font-size="10px">c</text>
<text transform="translate(203 472.4) scale(0.955 1.06)">(</text>
<text transform="translate(208.3 472.6) scale(0.955 1.04)">fm</text>
<text transform="translate(226.4 465.7) scale(0.955 1)" font-size="10px">-3</text>
<text transform="translate(235.2 472.4) scale(0.955 1.06)">)</text>
</g>
</svg>
</body></html>
